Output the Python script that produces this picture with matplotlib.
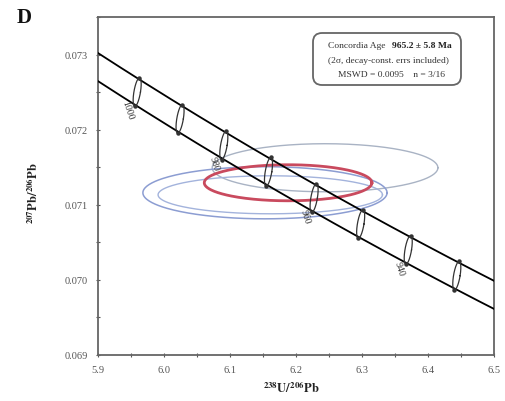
import numpy as np
import matplotlib
matplotlib.use("Agg")
import matplotlib.pyplot as plt
from matplotlib.patches import FancyBboxPatch
from matplotlib.transforms import IdentityTransform

plt.rcParams['font.family'] = ['Liberation Serif', 'DejaVu Serif']
plt.rcParams['mathtext.fontset'] = 'stix'

# ---- constants / data ----
lambda238 = 1.55125e-10
lambda235 = 9.8485e-10
u_ratio = 137.88
band_halfwidth = 0.000187          # decay-constant error band (in 207/206)
age_ticks = [1000, 990, 980, 970, 960, 950, 940, 930]   # Ma
label_ages = [1000, 980, 960, 940]

# data-point error ellipses (x = 238U/206Pb, y = 207Pb/206Pb)
ell_x = [6.244, 6.153, 6.161, 6.188]
ell_y = [0.071493, 0.071160, 0.071133, 0.071293]
ell_sx = [0.171, 0.185, 0.170, 0.127]
ell_sy = [0.000320, 0.000347, 0.000253, 0.000240]
ell_colors = ['#a9b3c4', '#8c9dd2', '#a3b3dc', '#c94a5e']
ell_lw = [1.0, 1.1, 1.0, 2.0]

x_ticks = [5.9, 6.0, 6.1, 6.2, 6.3, 6.4, 6.5]
y_ticks = [0.069, 0.070, 0.071, 0.072, 0.073]


def concordia(t_ma):
    t = np.asarray(t_ma) * 1e6
    e8 = np.exp(lambda238 * t) - 1
    e5 = np.exp(lambda235 * t) - 1
    return 1.0 / e8, (e5 / e8) / u_ratio


fig = plt.figure(figsize=(5.06, 4.02), dpi=100)
ax = fig.add_axes([98 / 506, 46 / 402, 396 / 506, 338 / 402])

# concordia band
tt = np.linspace(880, 1040, 400)
cx, cy = concordia(tt)
ax.plot(cx, cy + band_halfwidth, color='black', lw=1.3, zorder=4)
ax.plot(cx, cy - band_halfwidth, color='black', lw=1.3, zorder=4)

# data ellipses
th = np.linspace(0, 2 * np.pi, 300)
for x0, y0, sx, sy, c, lw in zip(ell_x, ell_y, ell_sx, ell_sy, ell_colors, ell_lw):
    ax.plot(x0 + sx * np.cos(th), y0 + sy * np.sin(th), color=c, lw=lw, zorder=3)

# age markers on concordia
mx, my = concordia(age_ticks)
for x0, y0 in zip(mx, my):
    a, b, h = 0.005, 0.0035, band_halfwidth * 1.02
    ax.plot(x0 + a * np.cos(th) + b * np.sin(th), y0 + h * np.sin(th),
            color='#333333', lw=0.9, zorder=5)
    ax.plot([x0 + b, x0 - b], [y0 + h, y0 - h], 'o', ms=2.2,
            color='#333333', zorder=6)

lx, ly = concordia(label_ages)
for age, x0, y0 in zip(label_ages, lx, ly):
    ax.text(x0 - 0.014, y0 - band_halfwidth - 0.00005, str(age),
            rotation=-72, fontsize=7, color='#333333', ha='center', va='center',
            zorder=7)

ax.set_xlim(5.9, 6.5)
ax.set_ylim(0.069, 0.0735)
ax.set_xticks(x_ticks)
ax.set_xticklabels([f"{v:.1f}" for v in x_ticks])
ax.set_xticks(np.arange(5.95, 6.5, 0.1), minor=True)
ax.set_yticks(y_ticks)
ax.set_yticklabels([f"{v:.3f}" for v in y_ticks])
ax.set_yticks(np.arange(0.0695, 0.0736, 0.001), minor=True)
ax.tick_params(which='both', direction='inout', length=3, width=0.8,
               labelsize=7.5, colors='#555555', labelcolor='#555555', pad=6)
for s in ax.spines.values():
    s.set_color('#666666')
    s.set_linewidth(1.3)

fig.text(291 / 506, 1 - 388 / 402, r'$\mathbf{^{238}U/^{206}Pb}$',
         ha='center', va='center', fontsize=9, color='#222222')
fig.text(33 / 506, 1 - 193 / 402, r'$\mathbf{^{207}Pb/^{206}Pb}$',
         ha='center', va='center', fontsize=9, rotation=90, color='#222222')
fig.text(24 / 506, 1 - 18 / 402, 'D', ha='center', va='center',
         fontsize=15, fontweight='bold', color='#111111')

# info box
box = FancyBboxPatch((313, 402 - 86), 148, 52,
                     boxstyle='round,pad=0,rounding_size=9',
                     transform=IdentityTransform(), facecolor='white',
                     edgecolor='#666666', lw=1.3, zorder=10)
fig.add_artist(box)
fig.text(385 / 506, 1 - 46 / 402, 'Concordia Age', ha='right', va='center',
         fontsize=6.8, color='#333333', zorder=11)
fig.text(392 / 506, 1 - 46 / 402, '965.2 ± 5.8 Ma', ha='left', va='center',
         fontsize=6.8, fontweight='bold', color='#222222', zorder=11)
fig.text(388 / 506, 1 - 61 / 402, '(2σ, decay-const. errs included)',
         ha='center', va='center', fontsize=6.8, color='#333333', zorder=11)
fig.text(392 / 506, 1 - 75 / 402, 'MSWD = 0.0095    n = 3/16',
         ha='center', va='center', fontsize=6.8, color='#333333', zorder=11)

fig.savefig('out.png', dpi=100)
